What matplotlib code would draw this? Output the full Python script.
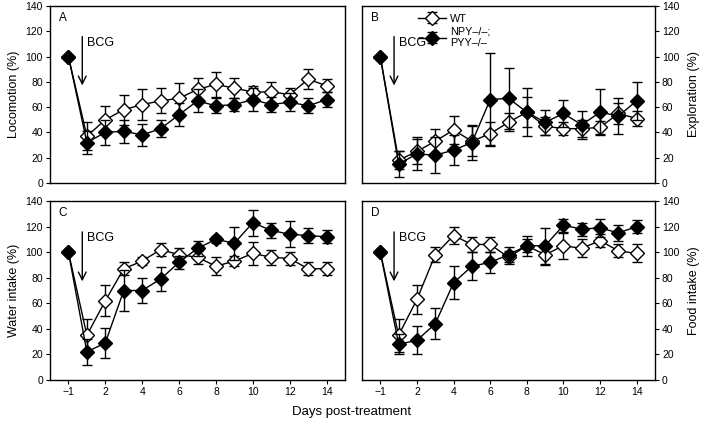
import matplotlib
matplotlib.use("Agg")
import matplotlib.pyplot as plt
import numpy as np

plt.rcParams['font.family'] = ['Liberation Sans', 'DejaVu Sans']

days = [-1, 1, 2, 3, 4, 5, 6, 7, 8, 9, 10, 11, 12, 13, 14]
tick_days = [-1, 2, 4, 6, 8, 10, 12, 14]
tick_labels = ["\u22121", "2", "4", "6", "8", "10", "12", "14"]

# Panel A: Locomotion
loc_wt = [100, 37, 50, 58, 62, 65, 67, 74, 78, 75, 72, 72, 70, 82, 77]
loc_wt_err = [0, 11, 11, 12, 12, 10, 12, 9, 10, 8, 5, 8, 5, 8, 5]
loc_ko = [100, 32, 40, 41, 38, 43, 54, 65, 61, 62, 66, 62, 64, 61, 66]
loc_ko_err = [0, 9, 10, 9, 9, 7, 9, 9, 6, 5, 9, 6, 7, 6, 6]

# Panel B: Exploration
exp_wt = [100, 18, 25, 33, 42, 33, 39, 48, 56, 45, 43, 43, 44, 55, 51]
exp_wt_err = [0, 7, 10, 10, 11, 12, 9, 7, 12, 7, 5, 7, 5, 8, 6]
exp_ko = [100, 15, 23, 22, 26, 32, 66, 67, 56, 48, 55, 46, 56, 53, 65]
exp_ko_err = [0, 10, 13, 14, 12, 14, 37, 24, 19, 10, 11, 11, 18, 14, 15]

# Panel C: Water intake
wat_wt = [100, 35, 62, 87, 93, 102, 98, 96, 89, 93, 99, 96, 95, 87, 87]
wat_wt_err = [0, 13, 12, 5, 3, 5, 5, 5, 7, 4, 9, 6, 5, 5, 5]
wat_ko = [100, 22, 29, 70, 70, 79, 92, 103, 110, 107, 123, 117, 114, 113, 112]
wat_ko_err = [0, 10, 12, 16, 10, 9, 5, 6, 3, 13, 10, 6, 10, 6, 5]

# Panel D: Food intake
food_wt = [100, 35, 63, 98, 113, 106, 106, 96, 105, 98, 105, 103, 109, 101, 99]
food_wt_err = [0, 13, 11, 6, 7, 6, 6, 5, 8, 8, 10, 7, 5, 5, 7]
food_ko = [100, 28, 31, 44, 76, 89, 92, 98, 105, 105, 121, 118, 119, 115, 120]
food_ko_err = [0, 8, 11, 12, 13, 11, 8, 6, 5, 14, 5, 5, 7, 6, 5]

panels = [
    ("A", "Locomotion (%)", loc_wt, loc_wt_err, loc_ko, loc_ko_err),
    ("B", "Exploration (%)", exp_wt, exp_wt_err, exp_ko, exp_ko_err),
    ("C", "Water intake (%)", wat_wt, wat_wt_err, wat_ko, wat_ko_err),
    ("D", "Food intake (%)", food_wt, food_wt_err, food_ko, food_ko_err),
]

W, H = 709, 425
fig = plt.figure(figsize=(W / 100, H / 100), dpi=100)

rects = {
    "A": (50, 6, 345, 183),
    "B": (362, 6, 655, 183),
    "C": (50, 201, 345, 380),
    "D": (362, 201, 655, 380),
}

x = np.arange(len(days))
pos = {d: i for i, d in enumerate(days)}

for label, ylabel, wt, wte, ko, koe in panels:
    l, t, r, b = rects[label]
    ax = fig.add_axes([l / W, 1 - b / H, (r - l) / W, (b - t) / H])
    ms = 7.2
    ax.errorbar(x, wt, yerr=wte, color='black', lw=1.0, elinewidth=1.0,
                capsize=3.5, capthick=1.0, marker='D', ms=ms,
                mfc='white', mec='black', mew=1.0, zorder=3, label='WT')
    ax.errorbar(x, ko, yerr=koe, color='black', lw=1.0, elinewidth=1.0,
                capsize=3.5, capthick=1.0, marker='D', ms=ms,
                mfc='black', mec='black', mew=1.0, zorder=4,
                label='NPY\u2013/\u2013;\nPYY\u2013/\u2013')
    ax.set_xlim(-1, 15)
    ax.set_ylim(0, 140)
    ax.set_yticks(np.arange(0, 141, 20))
    for s in ax.spines.values():
        s.set_linewidth(1.0)
    ax.tick_params(axis='both', labelsize=7.5, length=3, width=0.8,
                   direction='out', pad=2)
    if label in ("A", "B"):
        ax.set_xticks([])
    else:
        ax.set_xticks([pos[d] for d in tick_days])
        ax.set_xticklabels(tick_labels)
    if label in ("B", "D"):
        ax.yaxis.tick_right()
        ax.yaxis.set_label_position('right')
        ax.set_ylabel(ylabel, fontsize=9, labelpad=6)
    else:
        ax.set_ylabel(ylabel, fontsize=9, labelpad=4)
    ax.text(0.03, 0.965, label, transform=ax.transAxes, fontsize=8.5,
            ha='left', va='top')
    ax.annotate('', xy=(0.75, 75), xytext=(0.75, 118),
                arrowprops=dict(arrowstyle='->', color='black', lw=1.0,
                                mutation_scale=14))
    ax.text(1.0, 111, 'BCG', fontsize=9, ha='left', va='center')
    if label == "B":
        ax.legend(loc='upper left', bbox_to_anchor=(0.165, 1.0), frameon=False,
                  fontsize=7.8, handlelength=2.6, handletextpad=0.4,
                  labelspacing=0.3, borderaxespad=0.3)

fig.text(352 / W, 1 - 412 / H, 'Days post-treatment', ha='center',
         va='center', fontsize=9.5)

fig.savefig('out.png', dpi=100)
